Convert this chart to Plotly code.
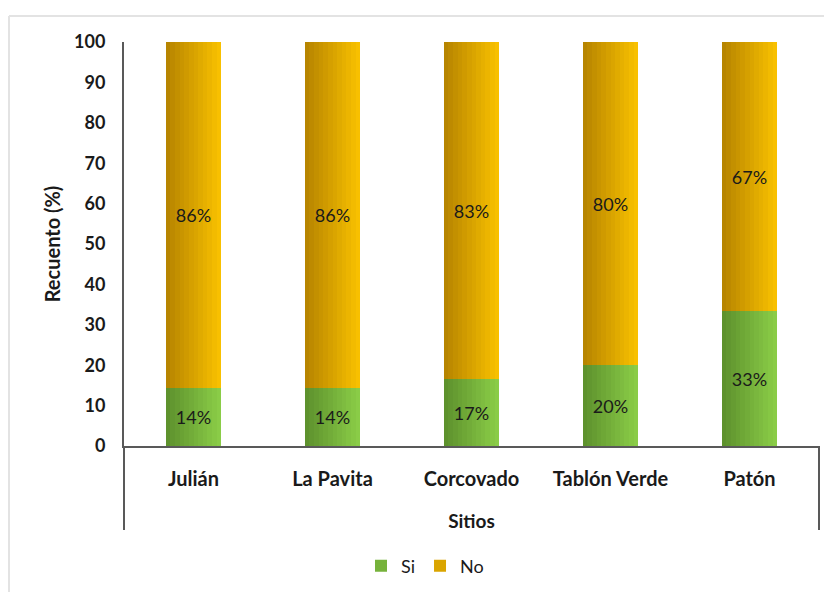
import plotly.graph_objects as go

# ---- data ----
sitios = ["Julián", "La Pavita", "Corcovado", "Tablón Verde", "Patón"]
si_vals = [14.29, 14.29, 16.67, 20.0, 33.33]
no_vals = [85.71, 85.71, 83.33, 80.0, 66.67]
si_labels = ["14%", "14%", "17%", "20%", "33%"]
no_labels = ["86%", "86%", "83%", "80%", "67%"]
y_ticks = [0, 10, 20, 30, 40, 50, 60, 70, 80, 90, 100]

# ---- style ----
FONT = "Lato"
TXT = "#1a1a1a"
AXC = "#595959"
BAR_W = 0.40
N_STRIPS = 12
SI_LEFT, SI_RIGHT = (0x5c, 0x8f, 0x2c), (0x8c, 0xcf, 0x48)
NO_LEFT, NO_RIGHT = (0xb4, 0x82, 0x00), (0xfb, 0xc3, 0x00)

# figure geometry (page body has an 8px margin)
W, H = 824, 584
ML, MR, MT, MB = 116, 13, 34, 146
PW, PH = W - ML - MR, H - MT - MB


def px_x(x):  # page x -> paper x
    return (x - 8 - ML) / PW


def px_y(y):  # page y -> paper y
    return (H - MB - (y - 8)) / PH


def mix(a, b, t):
    return "rgb(%d,%d,%d)" % tuple(round(a[i] + (b[i] - a[i]) * t) for i in range(3))


fig = go.Figure()

series = [
    ("Si", si_vals, None, SI_LEFT, SI_RIGHT, si_labels),
    ("No", no_vals, si_vals, NO_LEFT, NO_RIGHT, no_labels),
]

sw = BAR_W / N_STRIPS
for name, vals, base, cl, cr, labels in series:
    for k in range(N_STRIPS):
        t = (k + 0.5) / N_STRIPS
        fig.add_trace(go.Bar(
            x=sitios, y=vals, base=base,
            width=sw * 1.02, offset=-BAR_W / 2 + k * sw,
            marker=dict(color=mix(cl, cr, t), line=dict(width=0)),
            name=name, legendgroup=name,
            showlegend=(k == N_STRIPS // 2),
            textposition="none", hoverinfo="skip",
        ))
    # label carrier (transparent, full width)
    fig.add_trace(go.Bar(
        x=sitios, y=vals, base=base, width=BAR_W, offset=-BAR_W / 2,
        marker=dict(color="rgba(0,0,0,0)", line=dict(width=0)),
        text=labels, textposition="inside", insidetextanchor="middle",
        textangle=0, textfont=dict(family=FONT, size=18, color=TXT),
        name=name, legendgroup=name, showlegend=False,
    ))

shapes = [
    # frame extensions under the category axis
    dict(type="line", xref="paper", yref="paper", x0=0, x1=0, y0=0, y1=px_y(530),
         line=dict(color=AXC, width=2)),
    dict(type="line", xref="paper", yref="paper", x0=1, x1=1, y0=0, y1=px_y(530),
         line=dict(color=AXC, width=2)),
    # light outer chart border (top and left)
    dict(type="line", xref="paper", yref="paper",
         x0=px_x(9), x1=px_x(840), y0=px_y(16), y1=px_y(16),
         line=dict(color="#e3e3e3", width=2)),
    dict(type="line", xref="paper", yref="paper",
         x0=px_x(9), x1=px_x(9), y0=px_y(16), y1=px_y(600),
         line=dict(color="#e3e3e3", width=2)),
]

fig.update_layout(
    width=W, height=H,
    margin=dict(l=ML, r=MR, t=MT, b=MB, autoexpand=False),
    paper_bgcolor="white", plot_bgcolor="white",
    barmode="overlay", bargap=0,
    font=dict(family=FONT, color=TXT, size=18),
    shapes=shapes,
    showlegend=True,
    legend=dict(
        orientation="h", x=px_x(425), xanchor="center",
        y=px_y(566), yanchor="middle",
        font=dict(family=FONT, size=18, color=TXT),
        itemwidth=30, tracegroupgap=0, traceorder="normal",
    ),
    xaxis=dict(
        showline=True, linecolor=AXC, linewidth=2, showgrid=False,
        ticks="", ticklabelstandoff=14,
        tickfont=dict(family=FONT, size=20, color=TXT, weight="bold"),
        title=dict(text="<b>Sitios</b>", standoff=26,
                   font=dict(family=FONT, size=19, color=TXT)),
        fixedrange=True,
    ),
    yaxis=dict(
        range=[0, 100], tickvals=y_ticks,
        showline=True, linecolor=AXC, linewidth=2, showgrid=False,
        zeroline=False, ticks="", ticklabelstandoff=13,
        tickfont=dict(family=FONT, size=18, color=TXT, weight="bold"),
        title=dict(text="<b>Recuento (%)</b>", standoff=8,
                   font=dict(family=FONT, size=20, color=TXT)),
        fixedrange=True,
    ),
)

fig.write_html("out.html")
